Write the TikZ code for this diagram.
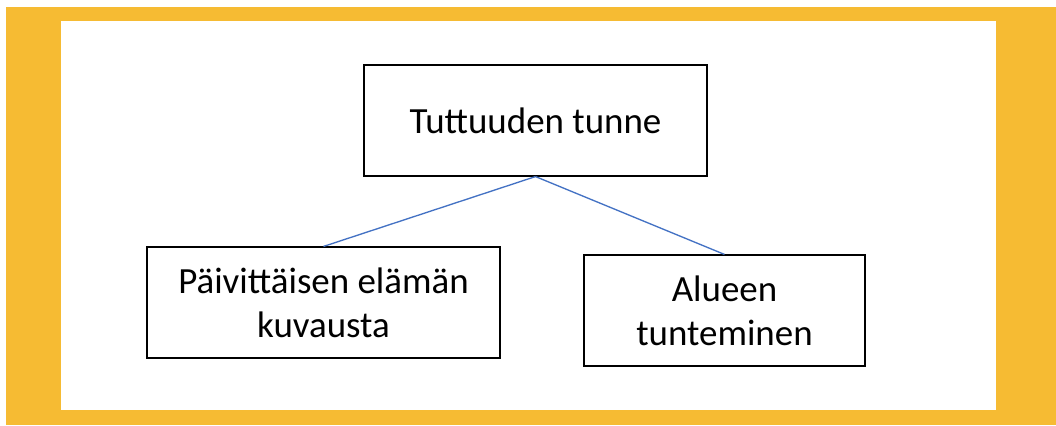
\documentclass[tikz,border=0pt]{standalone}
\usepackage{fontspec}
\setmainfont{Carlito}
\usepackage{xcolor}
\definecolor{frameyellow}{HTML}{F6BB33}
\definecolor{linkblue}{HTML}{4472C4}

\begin{document}
\begin{tikzpicture}[x=0.75pt,y=-0.75pt,
	box/.style={draw=black,line width=1.1pt,fill=white,minimum height=83pt,inner sep=0pt,align=center,font=\fontsize{27.7}{33}\selectfont},
	link/.style={draw=linkblue,line width=1pt}]
	\useasboundingbox (0,0) rectangle (1056,425);
	\fill[frameyellow] (6,7) rectangle (1056,425);
	\fill[white] (61,21) rectangle (996,410);
	\node[box,minimum width=257pt] (tunne) at (535.5,120.5) {Tuttuuden tunne};
	\node[box,minimum width=265pt] (arki) at (323.5,302.5) {Päivittäisen elämän\\kuvausta};
	\node[box,minimum width=211pt] (alue) at (724.5,310.5) {Alueen\\tunteminen};
	\draw[link] (tunne.south) -- (arki.north);
	\draw[link] (tunne.south) -- (alue.north);
\end{tikzpicture}
\end{document}
